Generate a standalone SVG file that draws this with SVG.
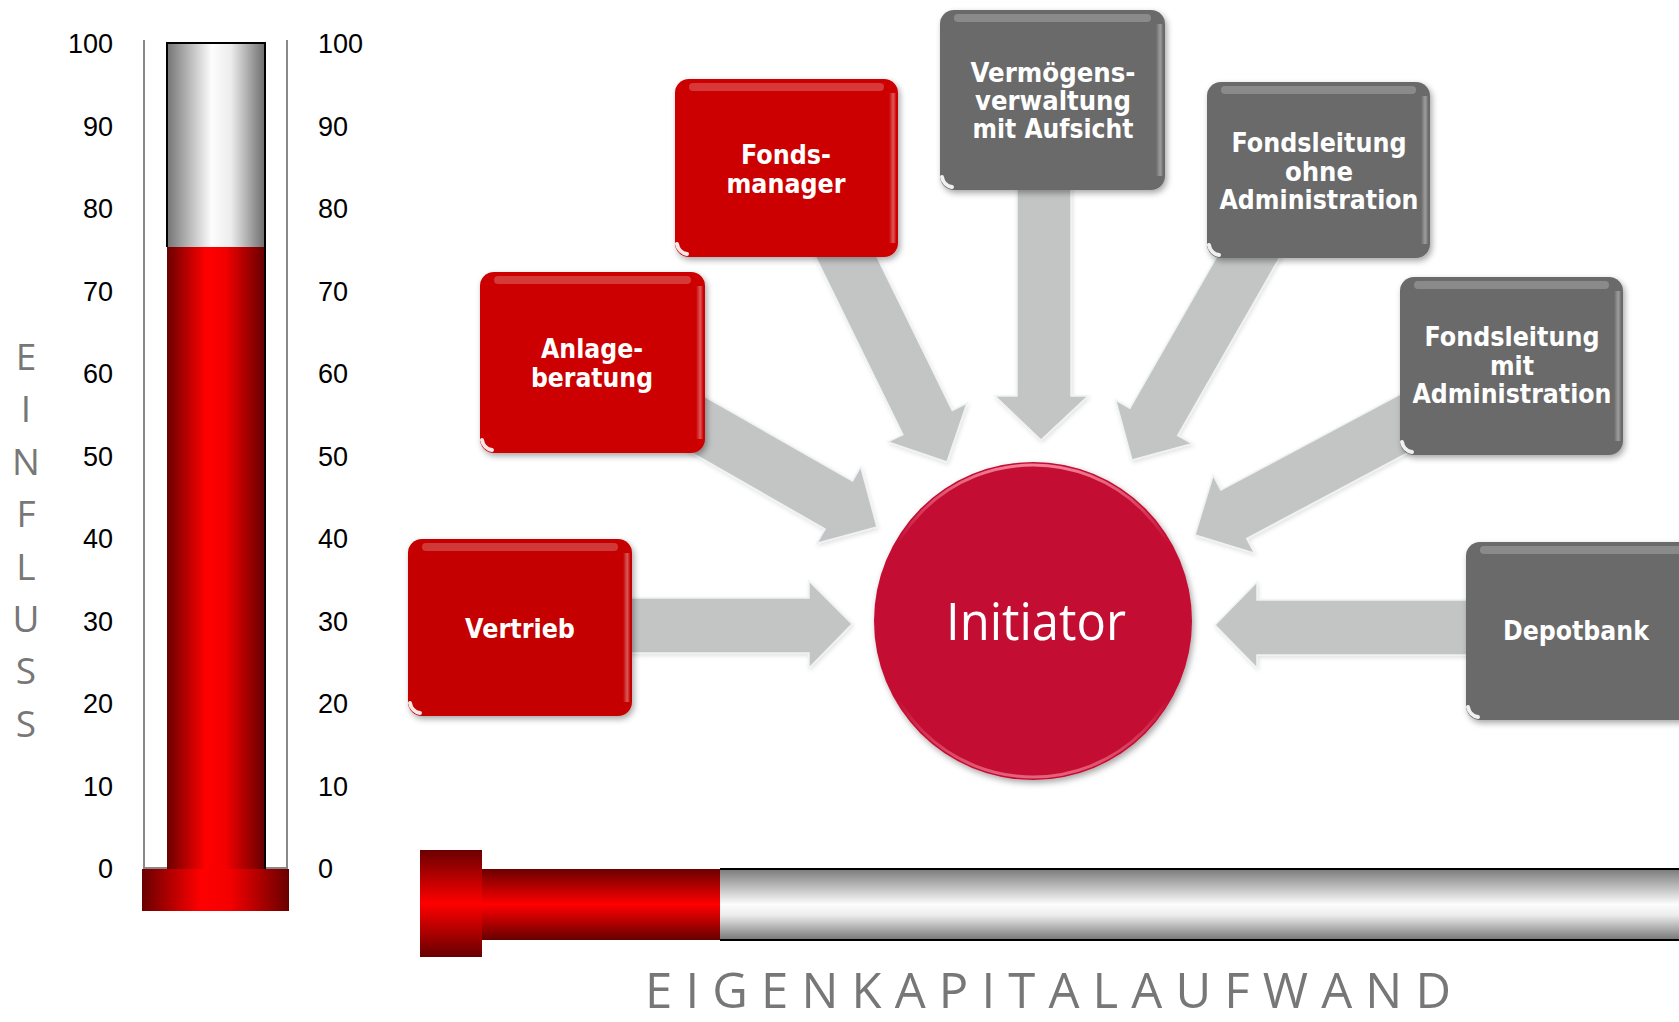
<svg xmlns="http://www.w3.org/2000/svg" width="1679" height="1022" viewBox="0 0 1679 1022">
<defs>
  <linearGradient id="silverH" x1="0" y1="0" x2="1" y2="0">
    <stop offset="0" stop-color="#777"/>
    <stop offset="0.45" stop-color="#fdfdfd"/>
    <stop offset="0.65" stop-color="#ececec"/>
    <stop offset="1" stop-color="#6c6c6c"/>
  </linearGradient>
  <linearGradient id="redH" x1="0" y1="0" x2="1" y2="0">
    <stop offset="0" stop-color="#6a0000"/>
    <stop offset="0.4" stop-color="#ff0000"/>
    <stop offset="0.6" stop-color="#f40000"/>
    <stop offset="1" stop-color="#680000"/>
  </linearGradient>
  <linearGradient id="silverV" x1="0" y1="0" x2="0" y2="1">
    <stop offset="0" stop-color="#7a7a7a"/>
    <stop offset="0.5" stop-color="#fdfdfd"/>
    <stop offset="0.65" stop-color="#ececec"/>
    <stop offset="1" stop-color="#767676"/>
  </linearGradient>
  <linearGradient id="redV" x1="0" y1="0" x2="0" y2="1">
    <stop offset="0" stop-color="#6a0000"/>
    <stop offset="0.5" stop-color="#ff0000"/>
    <stop offset="1" stop-color="#660000"/>
  </linearGradient>
  <linearGradient id="edge" x1="0" y1="0" x2="1" y2="0">
    <stop offset="0" stop-color="#fff" stop-opacity="0"/>
    <stop offset="0.6" stop-color="#fff" stop-opacity="0.35"/>
    <stop offset="1" stop-color="#fff" stop-opacity="0.05"/>
  </linearGradient>
  <linearGradient id="rim" x1="0" y1="0" x2="0" y2="1">
    <stop offset="0" stop-color="#ff9aae" stop-opacity="0.8"/>
    <stop offset="0.25" stop-color="#ff9aae" stop-opacity="0"/>
    <stop offset="0.75" stop-color="#ff9aae" stop-opacity="0"/>
    <stop offset="1" stop-color="#ff9aae" stop-opacity="0.6"/>
  </linearGradient>
  <filter id="shadow" x="-10%" y="-10%" width="125%" height="130%">
    <feDropShadow dx="2" dy="3" stdDeviation="3" flood-color="#000" flood-opacity="0.35"/>
  </filter>
  <filter id="ashadow" x="-10%" y="-10%" width="125%" height="125%">
    <feDropShadow dx="1" dy="2" stdDeviation="2" flood-color="#000" flood-opacity="0.12"/>
  </filter>
</defs>
<style>
  .tick{font-family:"Liberation Sans",Arial,sans-serif;font-size:27px;fill:#000}
  .tl{text-anchor:end}
  .axis{font-family:"Open Sans","DejaVu Sans",sans-serif;fill:#777}
  .axv{font-size:37px;text-anchor:middle}
  .lbl{font-family:"DejaVu Sans",Verdana,sans-serif;font-weight:bold;font-size:26px;fill:#fff;text-anchor:middle}
  .lg{font-size:27px}
  .red{fill:#cc0000}
  .red2{fill:#c40000}
  .gray{fill:#6a6b6b}
  .hl{fill:#fff;opacity:0.22}
  .glare{fill:none;stroke:#fff;stroke-width:4;stroke-linecap:round;opacity:0.9}
  .arrow{fill:#c3c4c4;stroke:#eef2f4;stroke-width:1.5;stroke-linejoin:miter}
  .scale{stroke:#888;stroke-width:2;fill:none}
</style>

<rect x="0" y="0" width="1679" height="1022" fill="#fff"/>

<!-- Thermometer (EINFLUSS) -->
<g id="thermometer">
  <path class="scale" d="M144,40 V868 H287 V40"/>
  <rect x="168" y="43" width="97" height="205" fill="url(#silverH)"/>
  <rect x="167" y="247" width="97" height="624" fill="url(#redH)"/>
  <path d="M167,247 V43 H265 V871 H167" fill="none" stroke="#000" stroke-width="2"/>
  <rect x="142" y="869" width="147" height="42" fill="url(#redH)"/>
</g>
<g id="ticks-left" class="tick tl">
  <text x="113" y="53">100</text>
  <text x="113" y="135.5">90</text>
  <text x="113" y="218">80</text>
  <text x="113" y="300.5">70</text>
  <text x="113" y="383">60</text>
  <text x="113" y="465.5">50</text>
  <text x="113" y="548">40</text>
  <text x="113" y="630.5">30</text>
  <text x="113" y="713">20</text>
  <text x="113" y="795.5">10</text>
  <text x="113" y="878">0</text>
</g>
<g id="ticks-right" class="tick">
  <text x="318" y="53">100</text>
  <text x="318" y="135.5">90</text>
  <text x="318" y="218">80</text>
  <text x="318" y="300.5">70</text>
  <text x="318" y="383">60</text>
  <text x="318" y="465.5">50</text>
  <text x="318" y="548">40</text>
  <text x="318" y="630.5">30</text>
  <text x="318" y="713">20</text>
  <text x="318" y="795.5">10</text>
  <text x="318" y="878">0</text>
</g>
<g id="einfluss" class="axis axv">
  <text x="26" y="370">E</text>
  <text x="26" y="422">I</text>
  <text x="26" y="475">N</text>
  <text x="26" y="527">F</text>
  <text x="26" y="580">L</text>
  <text x="26" y="632">U</text>
  <text x="26" y="684">S</text>
  <text x="26" y="737">S</text>
</g>

<!-- Horizontal bar (EIGENKAPITALAUFWAND) -->
<g id="hbar">
  <rect x="720" y="869" width="970" height="71" fill="url(#silverV)"/>
  <path d="M720,869 H1690 M720,940 H1690" stroke="#000" stroke-width="2"/>
  <rect x="482" y="869" width="238" height="71" fill="url(#redV)"/>
  <rect x="420" y="850" width="62" height="107" fill="url(#redV)"/>
</g>
<text id="eigenkapital" class="axis" x="645" y="1008" font-size="49" textLength="806" lengthAdjust="spacing">EIGENKAPITALAUFWAND</text>

<!-- Connectors -->
<g id="connectors" filter="url(#ashadow)">
  <polygon id="a-vertrieb" class="arrow" points="620,598 809,598 809,581 852,624 809,668 809,653 620,653"/>
  <polygon id="a-anlage" class="arrow" points="676.3,443.9 825.1,529 816.9,543.3 877,527 860.7,466.9 852.5,481 703.7,396.1"/>
  <polygon id="a-fonds" class="arrow" points="813.3,252.1 902.9,434.6 888.1,441.9 947,462 967.1,403.1 952.3,410.4 862.7,227.9"/>
  <polygon id="a-vermoegen" class="arrow" points="1017,180 1071,180 1071,396 1088,396 1041,440 995,396 1017,396"/>
  <polygon id="a-ohne" class="arrow" points="1234.1,226.4 1129.9,408.2 1115.6,400 1132,460 1192,443.6 1177.7,435.4 1281.9,253.6"/>
  <polygon id="a-mit" class="arrow" points="1407.1,390.7 1220.9,490 1213.1,475.5 1195,535 1254.5,553.1 1246.7,538.6 1432.9,439.3"/>
  <polygon id="a-depot" class="arrow" points="1480,600 1257,600 1257,582 1215,625 1257,668 1257,655 1480,655"/>
</g>

<!-- Center node -->
<g id="n-initiator">
  <circle cx="1033" cy="621" r="159" fill="#c30a30" filter="url(#shadow)"/>
  <circle cx="1033" cy="621" r="156" fill="none" stroke="url(#rim)" stroke-width="3"/>
  <text x="1036" y="640" font-family="'Open Sans','DejaVu Sans',sans-serif" font-size="51" fill="#fff" text-anchor="middle" textLength="180" lengthAdjust="spacingAndGlyphs">Initiator</text>
</g>

<!-- Red nodes -->
<g id="n-vertrieb">
  <rect class="red2" x="408" y="539" width="224" height="177" rx="14" filter="url(#shadow)"/>
  <rect class="hl" x="422" y="543" width="196" height="8" rx="4"/>
  <rect x="623" y="553" width="7" height="149" fill="url(#edge)"/>
  <path class="glare" d="M410,703 A12,12 0 0 0 420,713"/>
  <text class="lbl" x="520" y="638" textLength="110" lengthAdjust="spacingAndGlyphs">Vertrieb</text>
</g>
<g id="n-anlage">
  <rect class="red" x="480" y="272" width="225" height="181" rx="14" filter="url(#shadow)"/>
  <rect class="hl" x="494" y="276" width="197" height="8" rx="4"/>
  <rect x="696" y="286" width="7" height="153" fill="url(#edge)"/>
  <path class="glare" d="M482,440 A12,12 0 0 0 492,450"/>
  <text class="lbl" x="592" y="358" textLength="102" lengthAdjust="spacingAndGlyphs">Anlage-</text>
  <text class="lbl" x="592" y="387" textLength="122" lengthAdjust="spacingAndGlyphs">beratung</text>
</g>
<g id="n-fondsmanager">
  <rect class="red" x="675" y="79" width="223" height="178" rx="14" filter="url(#shadow)"/>
  <rect class="hl" x="689" y="83" width="195" height="8" rx="4"/>
  <rect x="889" y="93" width="7" height="150" fill="url(#edge)"/>
  <path class="glare" d="M677,244 A12,12 0 0 0 687,254"/>
  <text class="lbl" x="786" y="164" textLength="90" lengthAdjust="spacingAndGlyphs">Fonds-</text>
  <text class="lbl" x="786" y="193" textLength="119" lengthAdjust="spacingAndGlyphs">manager</text>
</g>

<!-- Gray nodes -->
<g id="n-vermoegensverwaltung">
  <rect class="gray" x="940" y="10" width="225" height="180" rx="14" filter="url(#shadow)"/>
  <rect class="hl" x="954" y="14" width="197" height="8" rx="4"/>
  <rect x="1156" y="24" width="7" height="152" fill="url(#edge)"/>
  <path class="glare" d="M942,177 A12,12 0 0 0 952,187"/>
  <text class="lbl lg" x="1053" y="82" textLength="165" lengthAdjust="spacingAndGlyphs">Vermögens-</text>
  <text class="lbl lg" x="1053" y="110" textLength="156" lengthAdjust="spacingAndGlyphs">verwaltung</text>
  <text class="lbl lg" x="1053" y="138" textLength="161" lengthAdjust="spacingAndGlyphs">mit Aufsicht</text>
</g>
<g id="n-fondsleitung-ohne">
  <rect class="gray" x="1207" y="82" width="223" height="176" rx="14" filter="url(#shadow)"/>
  <rect class="hl" x="1221" y="86" width="195" height="8" rx="4"/>
  <rect x="1421" y="96" width="7" height="148" fill="url(#edge)"/>
  <path class="glare" d="M1209,245 A12,12 0 0 0 1219,255"/>
  <text class="lbl lg" x="1319" y="152" textLength="175" lengthAdjust="spacingAndGlyphs">Fondsleitung</text>
  <text class="lbl lg" x="1319" y="180.5" textLength="68" lengthAdjust="spacingAndGlyphs">ohne</text>
  <text class="lbl lg" x="1319" y="209" textLength="199" lengthAdjust="spacingAndGlyphs">Administration</text>
</g>
<g id="n-fondsleitung-mit">
  <rect class="gray" x="1400" y="277" width="223" height="178" rx="14" filter="url(#shadow)"/>
  <rect class="hl" x="1414" y="281" width="195" height="8" rx="4"/>
  <rect x="1614" y="291" width="7" height="150" fill="url(#edge)"/>
  <path class="glare" d="M1402,442 A12,12 0 0 0 1412,452"/>
  <text class="lbl lg" x="1512" y="346" textLength="175" lengthAdjust="spacingAndGlyphs">Fondsleitung</text>
  <text class="lbl lg" x="1512" y="374.5" textLength="44" lengthAdjust="spacingAndGlyphs">mit</text>
  <text class="lbl lg" x="1512" y="403" textLength="199" lengthAdjust="spacingAndGlyphs">Administration</text>
</g>
<g id="n-depotbank">
  <rect class="gray" x="1466" y="542" width="230" height="178" rx="14" filter="url(#shadow)"/>
  <rect class="hl" x="1480" y="546" width="210" height="8" rx="4"/>
  <path class="glare" d="M1468,707 A12,12 0 0 0 1478,717"/>
  <text class="lbl lg" x="1576" y="640" textLength="146" lengthAdjust="spacingAndGlyphs">Depotbank</text>
</g>
</svg>
